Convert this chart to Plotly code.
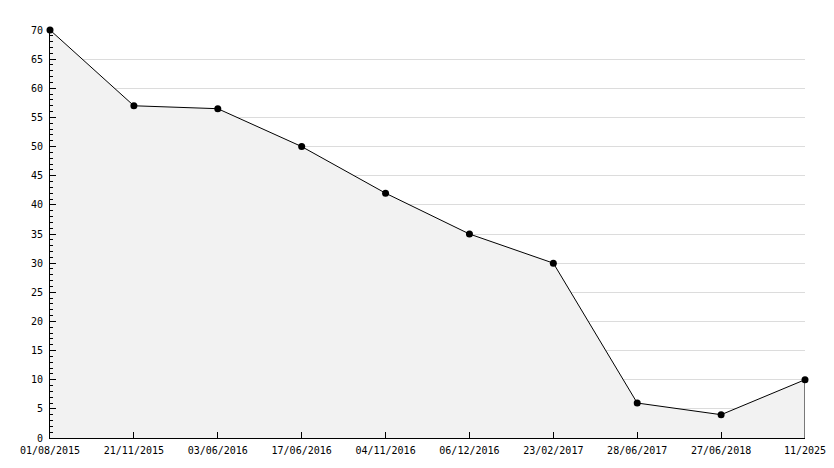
import plotly.graph_objects as go

# dates on the x axis (evenly spaced categories)
dates = ['01/08/2015', '21/11/2015', '03/06/2016', '17/06/2016', '04/11/2016',
         '06/12/2016', '23/02/2017', '28/06/2017', '27/06/2018', '11/2025']
values = [70, 57, 56.5, 50, 42, 35, 30, 6, 4, 10]
y_ticks = list(range(0, 75, 5))

font = dict(family='DejaVu Sans Mono', size=10, color='#000000')
idx = list(range(len(dates)))

fig = go.Figure()

fig.add_trace(go.Scatter(
    x=idx, y=values,
    mode='lines+markers',
    fill='tozeroy',
    fillcolor='#f2f2f2',
    line=dict(color='#000000', width=1),
    marker=dict(symbol='circle', size=7, color='#000000'),
    cliponaxis=False,
    showlegend=False,
    hoverinfo='x+y'
))

# closing edge of the filled area on the right
fig.add_trace(go.Scatter(
    x=[idx[-1], idx[-1]], y=[values[-1], 0],
    mode='lines',
    line=dict(color='#000000', width=1),
    cliponaxis=False,
    showlegend=False,
    hoverinfo='skip'
))

# page body adds an 8px offset, margins compensate for it
fig.update_layout(
    width=834, height=468,
    paper_bgcolor='#ffffff',
    plot_bgcolor='#ffffff',
    margin=dict(l=42, r=37, t=22, b=38),
    font=font,
)

fig.update_xaxes(
    range=[0, len(dates) - 1],
    tickvals=idx,
    ticktext=dates,
    showgrid=False,
    zeroline=False,
    showline=True,
    linecolor='#000000',
    linewidth=1,
    ticks='inside',
    ticklen=6,
    tickcolor='#000000',
    tickfont=font,
    ticklabelstandoff=3,
)

fig.update_yaxes(
    range=[0, 70],
    tickvals=y_ticks,
    showgrid=True,
    gridcolor='#dcdcdc',
    gridwidth=1,
    zeroline=False,
    showline=True,
    linecolor='#000000',
    linewidth=1,
    ticks='inside',
    ticklen=6,
    tickcolor='#000000',
    tickfont=font,
    ticklabelstandoff=4,
    minor=dict(dtick=1, ticks='inside', ticklen=3, tickcolor='#000000', showgrid=False),
)

fig.write_html("out.html")
